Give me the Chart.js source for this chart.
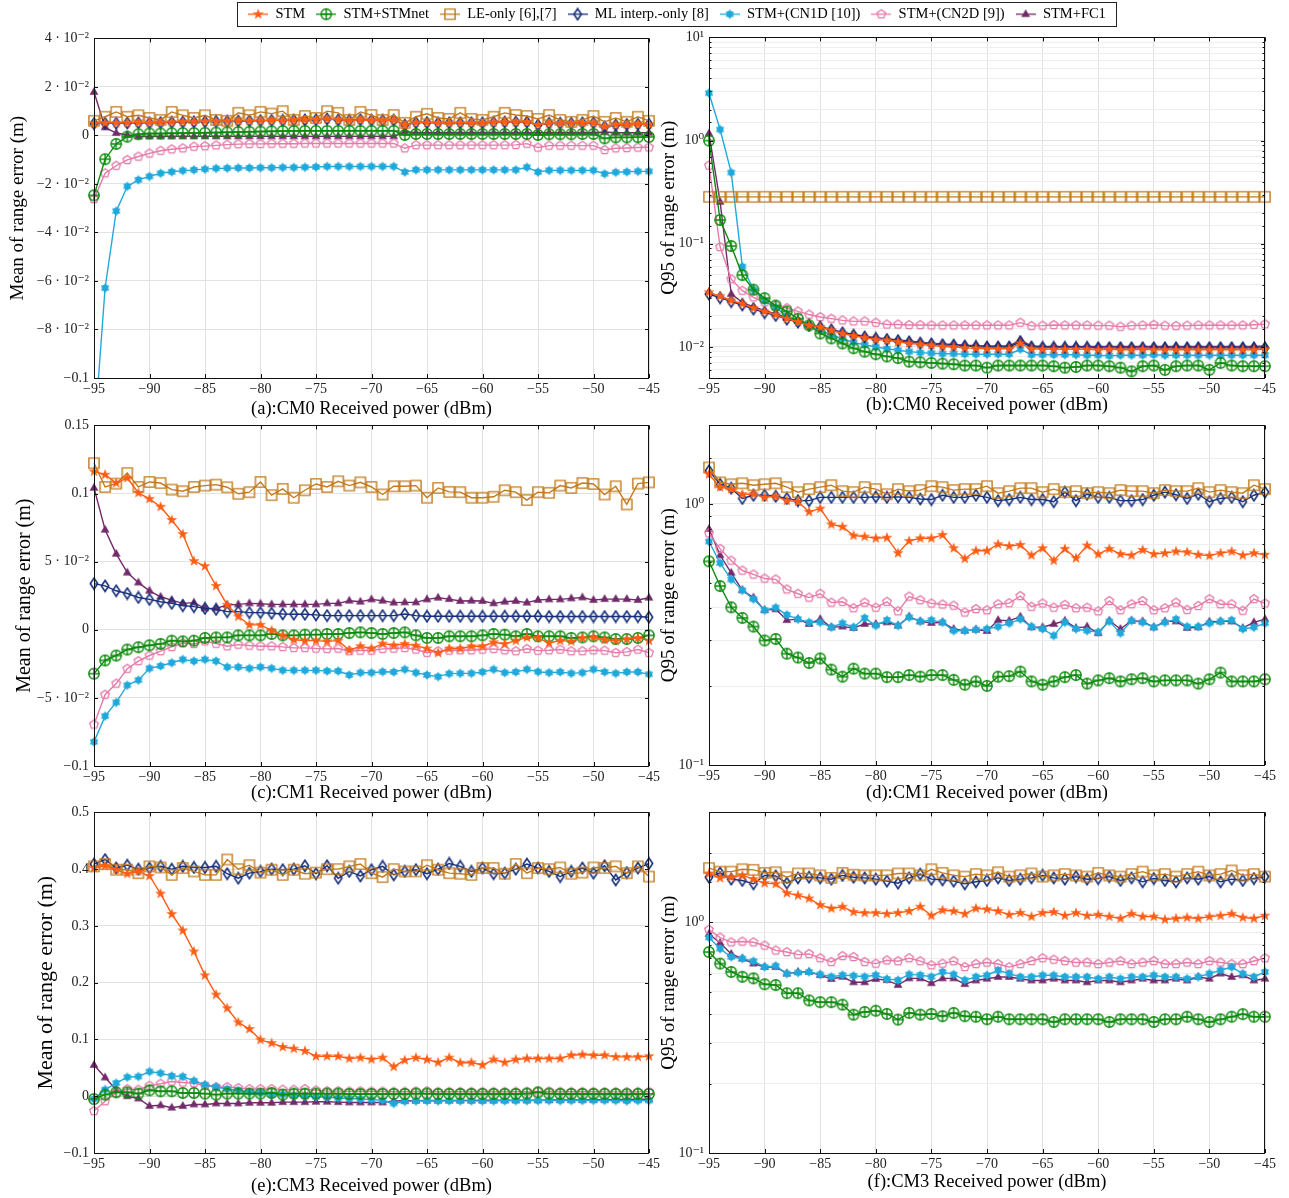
<!DOCTYPE html>
<html>
<head>
<meta charset="utf-8">
<script src="https://cdn.jsdelivr.net/npm/chart.js@4.4.1/dist/chart.umd.min.js"></script>
<style>
  body { margin: 0; background: #fff; width: 1289px; height: 1198px; position: relative; overflow: hidden; }
  canvas { position: absolute; }
  #legendBox { position: absolute; left: 237px; top: 2px; width: 880px; height: 25px; border: 1px solid #222; box-sizing: border-box; }
</style>
</head>
<body>
<div id="legendBox"></div>
<canvas id="legend" width="940" height="34" style="left:207px;top:-4px"></canvas>
<script>
'use strict';

// ***** DATA *****

let dbm = [-95, -94, -93, -92, -91, -90, -89, -88, -87, -86, -85, -84, -83, -82, -81, -80, -79, -78, -77, -76, -75,
  -74, -73, -72, -71, -70, -69, -68, -67, -66, -65, -64, -63, -62, -61, -60, -59, -58, -57, -56, -55,
  -54, -53, -52, -51, -50, -49, -48, -47, -46, -45];

let seriesNames = ['STM', 'STM+STMnet', 'LE-only [6],[7]', 'ML interp.-only [8]', 'STM+(CN1D [10])', 'STM+(CN2D [9])', 'STM+FC1'];

let xTickValues = [-95, -90, -85, -80, -75, -70, -65, -60, -55, -50, -45];
let xTickLabels = ['−95', '−90', '−85', '−80', '−75', '−70', '−65', '−60', '−55', '−50', '−45'];

let yTicksA = [-0.1, -0.08, -0.06, -0.04, -0.02, 0, 0.02, 0.04];
let yLabelsA = ['−0.1', '−8 · 10⁻²', '−6 · 10⁻²', '−4 · 10⁻²', '−2 · 10⁻²', '0', '2 · 10⁻²', '4 · 10⁻²'];
let yTicksC = [-0.1, -0.05, 0, 0.05, 0.1, 0.15];
let yLabelsC = ['−0.1', '−5 · 10⁻²', '0', '5 · 10⁻²', '0.1', '0.15'];
let yTicksE = [-0.1, 0, 0.1, 0.2, 0.3, 0.4, 0.5];
let yLabelsE = ['−0.1', '0', '0.1', '0.2', '0.3', '0.4', '0.5'];
let logTicks = [0.01, 0.1, 1, 10];
let logLabels = ['10⁻²', '10⁻¹', '10⁰', '10¹'];

// (a) CM0 mean
let stmA = [0.0050, 0.0051, 0.0051, 0.0052, 0.0053, 0.0053, 0.0054, 0.0055, 0.0056, 0.0057, 0.0058, 0.0058, 0.0059, 0.0059, 0.0060, 0.0061, 0.0062, 0.0062, 0.0063, 0.0064, 0.0065,
  0.0067, 0.0064, 0.0062, 0.0064, 0.0063, 0.0062, 0.0063, 0.0044, 0.0053, 0.0053, 0.0052, 0.0052, 0.0052, 0.0052, 0.0052, 0.0054, 0.0055, 0.0055, 0.0055, 0.0044,
  0.0050, 0.0050, 0.0050, 0.0052, 0.0052, 0.0037, 0.0044, 0.0045, 0.0046, 0.0046];
let stmnetA = [-0.0247, -0.0098, -0.0035, -0.0005, 0.0005, 0.0008, 0.0008, 0.0009, 0.0010, 0.0010, 0.0011, 0.0012, 0.0013, 0.0014, 0.0015, 0.0016, 0.0017, 0.0018, 0.0018, 0.0019, 0.0019,
  0.0019, 0.0019, 0.0019, 0.0019, 0.0019, 0.0019, 0.0019, 0.0002, 0.0006, 0.0006, 0.0006, 0.0006, 0.0006, 0.0006, 0.0006, 0.0006, 0.0006, 0.0006, 0.0006, 0.0002,
  0.0005, 0.0005, 0.0005, 0.0006, 0.0006, -0.0012, -0.0008, -0.0008, -0.0007, -0.0006];
let leA = [0.0060, 0.0077, 0.0097, 0.0077, 0.0083, 0.0072, 0.0064, 0.0097, 0.0083, 0.0072, 0.0083, 0.0064, 0.0060, 0.0093, 0.0083, 0.0097, 0.0090, 0.0100, 0.0064, 0.0080, 0.0072,
  0.0100, 0.0093, 0.0064, 0.0097, 0.0084, 0.0064, 0.0084, 0.0052, 0.0077, 0.0089, 0.0072, 0.0068, 0.0093, 0.0068, 0.0064, 0.0077, 0.0093, 0.0084, 0.0080, 0.0068,
  0.0084, 0.0064, 0.0056, 0.0064, 0.0080, 0.0056, 0.0072, 0.0056, 0.0077, 0.0060];
let mlA = [0.0049, 0.0050, 0.0050, 0.0051, 0.0052, 0.0052, 0.0053, 0.0054, 0.0055, 0.0056, 0.0057, 0.0058, 0.0058, 0.0059, 0.0060, 0.0061, 0.0062, 0.0062, 0.0063, 0.0064, 0.0065,
  0.0068, 0.0064, 0.0062, 0.0065, 0.0063, 0.0062, 0.0063, 0.0043, 0.0053, 0.0053, 0.0052, 0.0052, 0.0052, 0.0052, 0.0052, 0.0054, 0.0055, 0.0055, 0.0055, 0.0043,
  0.0050, 0.0050, 0.0050, 0.0052, 0.0052, 0.0036, 0.0043, 0.0045, 0.0046, 0.0046];
let cn1dA = [-0.125, -0.0629, -0.0312, -0.0210, -0.0183, -0.0169, -0.0156, -0.0150, -0.0145, -0.0142, -0.0139, -0.0136, -0.0135, -0.0134, -0.0134, -0.0133, -0.0133, -0.0132, -0.0132, -0.0131, -0.0130,
  -0.0128, -0.0128, -0.0128, -0.0128, -0.0128, -0.0128, -0.0128, -0.0151, -0.0142, -0.0142, -0.0142, -0.0142, -0.0142, -0.0142, -0.0142, -0.0142, -0.0142, -0.0142, -0.0131, -0.0151,
  -0.0144, -0.0144, -0.0144, -0.0144, -0.0144, -0.0158, -0.0152, -0.0150, -0.0148, -0.0148];
let cn2dA = [-0.0262, -0.0156, -0.0125, -0.0101, -0.0087, -0.0074, -0.0063, -0.0057, -0.0053, -0.0046, -0.0044, -0.0041, -0.0038, -0.0036, -0.0035, -0.0035, -0.0034, -0.0034, -0.0034, -0.0033, -0.0033,
  -0.0033, -0.0033, -0.0033, -0.0033, -0.0033, -0.0033, -0.0033, -0.0053, -0.0040, -0.0040, -0.0040, -0.0040, -0.0040, -0.0040, -0.0040, -0.0040, -0.0040, -0.0039, -0.0034, -0.0050,
  -0.0042, -0.0042, -0.0042, -0.0042, -0.0042, -0.0060, -0.0053, -0.0052, -0.0050, -0.0049];
let fc1A = [0.0179, 0.0033, 0.0010, 0.0002, -0.0004, -0.0004, -0.0004, -0.0004, -0.0004, -0.0004, -0.0004, -0.0004, -0.0004, -0.0004, -0.0004, -0.0004, -0.0004, -0.0004, -0.0004, -0.0004, -0.0004,
  -0.0004, -0.0004, -0.0004, -0.0004, -0.0004, -0.0004, -0.0004, 0.0015, 0.0011, 0.0011, 0.0011, 0.0011, 0.0011, 0.0011, 0.0011, 0.0011, 0.0011, 0.0011, 0.0011, 0.0011,
  0.0011, 0.0011, 0.0011, 0.0011, 0.0011, 0.0014, 0.0011, 0.0011, 0.0011, 0.0011];

// (b) CM0 Q95
let stmB = [0.0338, 0.0310, 0.0282, 0.0262, 0.0238, 0.0221, 0.0206, 0.0188, 0.0175, 0.0162, 0.0156, 0.0145, 0.0135, 0.0128, 0.0123, 0.0118, 0.0116, 0.0112, 0.0108, 0.0106, 0.0104,
  0.0101, 0.0100, 0.0098, 0.0097, 0.0096, 0.0096, 0.0096, 0.0108, 0.0096, 0.0095, 0.0095, 0.0095, 0.0095, 0.0095, 0.0094, 0.0095, 0.0094, 0.0094, 0.0095, 0.0094,
  0.0094, 0.0094, 0.0094, 0.0094, 0.0094, 0.0094, 0.0094, 0.0094, 0.0094, 0.0095];
let stmnetB = [1.0, 0.17, 0.095, 0.0497, 0.0359, 0.0297, 0.0252, 0.0221, 0.0188, 0.0162, 0.0135, 0.0121, 0.0108, 0.0097, 0.0090, 0.0085, 0.0081, 0.0078, 0.0072, 0.0071, 0.0070,
  0.0069, 0.0068, 0.0066, 0.0066, 0.0063, 0.0066, 0.0066, 0.0066, 0.0066, 0.0066, 0.0065, 0.0063, 0.0064, 0.0066, 0.0066, 0.0065, 0.0063, 0.0058, 0.0065, 0.0066,
  0.0060, 0.0065, 0.0066, 0.0066, 0.0060, 0.0070, 0.0066, 0.0065, 0.0065, 0.0065];
let leB = [0.285, 0.285, 0.285, 0.285, 0.285, 0.285, 0.285, 0.285, 0.285, 0.285, 0.285, 0.285, 0.285, 0.285, 0.285, 0.285, 0.285, 0.285, 0.285, 0.285, 0.285,
  0.285, 0.285, 0.285, 0.285, 0.285, 0.285, 0.285, 0.285, 0.285, 0.285, 0.285, 0.285, 0.285, 0.285, 0.285, 0.285, 0.285, 0.285, 0.285, 0.285,
  0.285, 0.285, 0.285, 0.285, 0.285, 0.285, 0.285, 0.285, 0.285, 0.285];
let mlB = [0.0325, 0.0300, 0.0275, 0.0255, 0.0233, 0.0215, 0.0202, 0.0186, 0.0174, 0.0162, 0.0156, 0.0146, 0.0137, 0.0130, 0.0125, 0.0121, 0.0118, 0.0115, 0.0112, 0.0109, 0.0107,
  0.0105, 0.0104, 0.0102, 0.0101, 0.0100, 0.0100, 0.0100, 0.0112, 0.0100, 0.0099, 0.0099, 0.0099, 0.0099, 0.0099, 0.0098, 0.0098, 0.0098, 0.0098, 0.0098, 0.0098,
  0.0098, 0.0098, 0.0098, 0.0098, 0.0098, 0.0098, 0.0098, 0.0098, 0.0098, 0.0098];
let cn1dB = [2.88, 1.28, 0.49, 0.060, 0.036, 0.028, 0.024, 0.020, 0.018, 0.016, 0.0145, 0.013, 0.012, 0.011, 0.0105, 0.0100, 0.0096, 0.0093, 0.0090, 0.0088, 0.0087,
  0.0086, 0.0086, 0.0085, 0.0085, 0.0085, 0.0085, 0.0085, 0.0095, 0.0084, 0.0084, 0.0084, 0.0084, 0.0084, 0.0083, 0.0083, 0.0082, 0.0083, 0.0083, 0.0083, 0.0084,
  0.0083, 0.0083, 0.0083, 0.0083, 0.0083, 0.0083, 0.0083, 0.0083, 0.0083, 0.0083];
let cn2dB = [0.573, 0.093, 0.0454, 0.0351, 0.0303, 0.0271, 0.0252, 0.0238, 0.0221, 0.0206, 0.0195, 0.0188, 0.0181, 0.0177, 0.0177, 0.0172, 0.0165, 0.0165, 0.0163, 0.0163, 0.0162,
  0.0162, 0.0162, 0.0162, 0.0162, 0.0162, 0.0162, 0.0162, 0.0172, 0.0160, 0.0161, 0.0163, 0.0162, 0.0162, 0.0162, 0.0161, 0.0161, 0.0157, 0.0161, 0.0162, 0.0164,
  0.0161, 0.0160, 0.0161, 0.0162, 0.0162, 0.0162, 0.0162, 0.0162, 0.0164, 0.0166];
let fc1B = [1.17, 0.255, 0.0326, 0.0270, 0.0245, 0.0225, 0.0210, 0.0192, 0.0178, 0.0165, 0.0158, 0.0148, 0.0139, 0.0132, 0.0127, 0.0123, 0.0120, 0.0117, 0.0114, 0.0111, 0.0109,
  0.0107, 0.0106, 0.0104, 0.0103, 0.0102, 0.0102, 0.0102, 0.0117, 0.0102, 0.0101, 0.0101, 0.0101, 0.0101, 0.0101, 0.0101, 0.0101, 0.0101, 0.0101, 0.0101, 0.0101,
  0.0101, 0.0101, 0.0101, 0.0101, 0.0101, 0.0101, 0.0101, 0.0101, 0.0101, 0.0102];

// (c) CM1 mean
let stmC = [0.1162, 0.1138, 0.1077, 0.1114, 0.1005, 0.0961, 0.0903, 0.0806, 0.0702, 0.0504, 0.0467, 0.0322, 0.0182, 0.0097, 0.0036, 0.0036, -0.0005, -0.0041, -0.0073, -0.0080, -0.0080,
  -0.0085, -0.0080, -0.0150, -0.0121, -0.0138, -0.0102, -0.0114, -0.0104, -0.0116, -0.0138, -0.0170, -0.0138, -0.0138, -0.0121, -0.0121, -0.0092, -0.0104, -0.0080, -0.0056, -0.0060,
  -0.0097, -0.0080, -0.0085, -0.0060, -0.0056, -0.0073, -0.0080, -0.0068, -0.0060, -0.0080];
let stmnetC = [-0.0322, -0.0225, -0.0189, -0.0145, -0.0128, -0.0114, -0.0104, -0.0080, -0.0085, -0.0080, -0.0060, -0.0056, -0.0056, -0.0041, -0.0041, -0.0041, -0.0031, -0.0041, -0.0041, -0.0036, -0.0036,
  -0.0031, -0.0031, -0.0024, -0.0019, -0.0024, -0.0031, -0.0024, -0.0019, -0.0041, -0.0060, -0.0060, -0.0048, -0.0048, -0.0048, -0.0041, -0.0031, -0.0036, -0.0048, -0.0031, -0.0048,
  -0.0048, -0.0048, -0.0060, -0.0056, -0.0048, -0.0056, -0.0068, -0.0068, -0.0060, -0.0041];
let leC = [0.1223, 0.1048, 0.1073, 0.1150, 0.1048, 0.1085, 0.1077, 0.1029, 0.1017, 0.1048, 0.1058, 0.1065, 0.1046, 0.0998, 0.1010, 0.1085, 0.0988, 0.1034, 0.0969, 0.1024, 0.1070,
  0.1048, 0.1090, 0.1058, 0.1082, 0.1048, 0.0993, 0.1053, 0.1053, 0.1058, 0.0969, 0.1041, 0.1012, 0.1010, 0.0969, 0.0969, 0.0976, 0.1024, 0.1010, 0.0952, 0.1010,
  0.1005, 0.1058, 0.1041, 0.1077, 0.1070, 0.0993, 0.1053, 0.0920, 0.1073, 0.1082];
let mlC = [0.0339, 0.0322, 0.0286, 0.0266, 0.0237, 0.0223, 0.0206, 0.0194, 0.0177, 0.0170, 0.0157, 0.0150, 0.0133, 0.0133, 0.0126, 0.0126, 0.0121, 0.0116, 0.0114, 0.0114, 0.0109,
  0.0104, 0.0104, 0.0104, 0.0104, 0.0104, 0.0104, 0.0104, 0.0116, 0.0104, 0.0099, 0.0099, 0.0099, 0.0099, 0.0099, 0.0099, 0.0099, 0.0099, 0.0099, 0.0099, 0.0099,
  0.0097, 0.0097, 0.0097, 0.0097, 0.0097, 0.0097, 0.0097, 0.0097, 0.0097, 0.0092];
let cn1dC = [-0.0823, -0.0634, -0.0533, -0.0407, -0.0370, -0.0283, -0.0266, -0.0242, -0.0218, -0.0230, -0.0218, -0.0230, -0.0274, -0.0274, -0.0283, -0.0274, -0.0283, -0.0298, -0.0298, -0.0298, -0.0298,
  -0.0303, -0.0303, -0.0332, -0.0315, -0.0315, -0.0308, -0.0310, -0.0291, -0.0315, -0.0332, -0.0344, -0.0322, -0.0320, -0.0320, -0.0310, -0.0291, -0.0315, -0.0310, -0.0291, -0.0308,
  -0.0315, -0.0310, -0.0320, -0.0315, -0.0291, -0.0310, -0.0320, -0.0310, -0.0310, -0.0327];
let cn2dC = [-0.0695, -0.0477, -0.0395, -0.0286, -0.0230, -0.0189, -0.0157, -0.0126, -0.0097, -0.0104, -0.0085, -0.0102, -0.0121, -0.0109, -0.0116, -0.0121, -0.0121, -0.0126, -0.0133, -0.0133, -0.0138,
  -0.0140, -0.0138, -0.0157, -0.0153, -0.0153, -0.0140, -0.0138, -0.0133, -0.0145, -0.0169, -0.0157, -0.0153, -0.0150, -0.0150, -0.0145, -0.0140, -0.0150, -0.0157, -0.0140, -0.0153,
  -0.0150, -0.0145, -0.0157, -0.0157, -0.0150, -0.0153, -0.0169, -0.0162, -0.0145, -0.0169];
let fc1C = [0.1041, 0.0734, 0.0557, 0.0419, 0.0346, 0.0286, 0.0242, 0.0218, 0.0194, 0.0199, 0.0157, 0.0157, 0.0182, 0.0186, 0.0194, 0.0191, 0.0186, 0.0186, 0.0186, 0.0186, 0.0186,
  0.0194, 0.0194, 0.0213, 0.0206, 0.0223, 0.0213, 0.0199, 0.0201, 0.0201, 0.0223, 0.0235, 0.0225, 0.0211, 0.0213, 0.0211, 0.0194, 0.0206, 0.0211, 0.0199, 0.0218,
  0.0223, 0.0223, 0.0230, 0.0237, 0.0218, 0.0225, 0.0225, 0.0225, 0.0218, 0.0235];

// (d) CM1 Q95
let stmD = [1.30, 1.16, 1.14, 1.09, 1.09, 1.06, 1.07, 1.03, 1.02, 0.933, 0.96, 0.835, 0.818, 0.757, 0.75, 0.739, 0.743, 0.648, 0.722, 0.739, 0.739, 0.761, 0.677,
  0.617, 0.662, 0.662, 0.701, 0.690, 0.697, 0.636, 0.677, 0.607, 0.673, 0.620, 0.693, 0.642, 0.673, 0.643, 0.636, 0.667, 0.643, 0.648, 0.658, 0.654, 0.639, 0.634, 0.648, 0.658, 0.636, 0.648, 0.639];
let stmnetD = [0.603, 0.485, 0.402, 0.366, 0.339, 0.300, 0.304, 0.267, 0.258, 0.246, 0.256, 0.232, 0.218, 0.234, 0.224, 0.224, 0.217, 0.217, 0.221, 0.218, 0.221, 0.221, 0.212,
  0.203, 0.209, 0.201, 0.218, 0.219, 0.228, 0.209, 0.203, 0.209, 0.217, 0.221, 0.205, 0.211, 0.215, 0.209, 0.213, 0.215, 0.209, 0.211, 0.211, 0.211, 0.205, 0.213, 0.226, 0.209, 0.209, 0.209, 0.213];
let leD = [1.38, 1.21, 1.19, 1.20, 1.18, 1.19, 1.20, 1.16, 1.11, 1.14, 1.16, 1.18, 1.12, 1.11, 1.16, 1.14, 1.09, 1.14, 1.12, 1.13, 1.17, 1.16, 1.13,
  1.14, 1.14, 1.17, 1.10, 1.12, 1.15, 1.15, 1.11, 1.14, 1.11, 1.12, 1.10, 1.11, 1.10, 1.13, 1.12, 1.12, 1.10, 1.13, 1.12, 1.12, 1.15, 1.11, 1.13, 1.11, 1.10, 1.18, 1.14];
let mlD = [1.34, 1.19, 1.15, 1.05, 1.08, 1.08, 1.07, 1.05, 1.03, 1.03, 1.06, 1.06, 1.06, 1.06, 1.06, 1.065, 1.06, 1.065, 1.06, 1.045, 1.04, 1.08, 1.06,
  1.06, 1.08, 1.06, 1.03, 1.04, 1.06, 1.04, 1.04, 1.02, 1.11, 1.03, 1.09, 1.06, 1.06, 1.03, 1.03, 1.04, 1.08, 1.11, 1.085, 1.05, 1.09, 1.02, 1.05, 1.06, 1.02, 1.08, 1.11];
let cn1dD = [0.718, 0.594, 0.514, 0.467, 0.432, 0.392, 0.401, 0.376, 0.362, 0.352, 0.352, 0.337, 0.349, 0.337, 0.366, 0.342, 0.359, 0.342, 0.368, 0.355, 0.359, 0.352, 0.327,
  0.327, 0.330, 0.332, 0.339, 0.349, 0.362, 0.339, 0.332, 0.313, 0.352, 0.332, 0.327, 0.323, 0.355, 0.320, 0.357, 0.352, 0.337, 0.352, 0.362, 0.339, 0.339, 0.349, 0.355, 0.359, 0.332, 0.337, 0.349];
let cn2dD = [0.772, 0.673, 0.607, 0.556, 0.537, 0.518, 0.514, 0.471, 0.453, 0.438, 0.453, 0.419, 0.422, 0.399, 0.419, 0.401, 0.422, 0.388, 0.442, 0.428, 0.416, 0.412, 0.408,
  0.384, 0.396, 0.392, 0.413, 0.417, 0.444, 0.404, 0.416, 0.401, 0.411, 0.399, 0.401, 0.388, 0.425, 0.392, 0.413, 0.425, 0.392, 0.399, 0.419, 0.393, 0.407, 0.432, 0.413, 0.413, 0.390, 0.432, 0.416];
let fc1D = [0.802, 0.636, 0.545, 0.467, 0.438, 0.392, 0.395, 0.359, 0.362, 0.347, 0.362, 0.337, 0.339, 0.335, 0.347, 0.347, 0.352, 0.342, 0.370, 0.355, 0.350, 0.352, 0.332,
  0.327, 0.330, 0.326, 0.359, 0.357, 0.370, 0.337, 0.337, 0.347, 0.357, 0.335, 0.339, 0.320, 0.357, 0.332, 0.357, 0.355, 0.337, 0.355, 0.355, 0.335, 0.337, 0.354, 0.355, 0.355, 0.335, 0.352, 0.362];

// (e) CM3 mean
let stmE = [0.402, 0.406, 0.399, 0.392, 0.396, 0.388, 0.357, 0.321, 0.292, 0.255, 0.213, 0.179, 0.155, 0.130, 0.1185, 0.0994, 0.0936, 0.0867, 0.0838, 0.0798, 0.0705,
  0.0705, 0.0705, 0.0665, 0.0680, 0.0650, 0.0680, 0.0520, 0.0636, 0.0680, 0.0647, 0.0595, 0.0680, 0.0590, 0.0595, 0.0550, 0.0647, 0.0595, 0.0647, 0.0665, 0.0665,
  0.0665, 0.0665, 0.0723, 0.0734, 0.0723, 0.0723, 0.0694, 0.0694, 0.0694, 0.0705];
let stmnetE = [-0.005, 0.0029, 0.0069, 0.0069, 0.0046, 0.0104, 0.0087, 0.0087, 0.0058, 0.0058, 0.0046, 0.0029, 0.0046, 0.0046, 0.0046, 0.0046, 0.0058, 0.0029, 0.0046, 0.0046, 0.0046,
  0.0046, 0.0046, 0.0040, 0.0040, 0.0040, 0.0040, 0.0040, 0.0040, 0.0046, 0.0046, 0.0040, 0.0040, 0.0040, 0.0040, 0.0040, 0.0040, 0.0040, 0.0040, 0.0046, 0.0069,
  0.0046, 0.0040, 0.0040, 0.0040, 0.0040, 0.0040, 0.0040, 0.0035, 0.0040, 0.0040];
let leE = [0.405, 0.409, 0.399, 0.399, 0.393, 0.405, 0.403, 0.390, 0.402, 0.396, 0.390, 0.390, 0.417, 0.400, 0.407, 0.394, 0.399, 0.390, 0.399, 0.392, 0.394,
  0.400, 0.400, 0.405, 0.409, 0.393, 0.386, 0.400, 0.396, 0.396, 0.407, 0.399, 0.393, 0.392, 0.390, 0.402, 0.402, 0.392, 0.409, 0.393, 0.402,
  0.400, 0.403, 0.392, 0.394, 0.403, 0.402, 0.405, 0.393, 0.405, 0.387];
let mlE = [0.409, 0.417, 0.402, 0.407, 0.400, 0.402, 0.405, 0.400, 0.405, 0.403, 0.403, 0.405, 0.392, 0.384, 0.393, 0.396, 0.400, 0.399, 0.400, 0.406, 0.392,
  0.406, 0.384, 0.396, 0.388, 0.399, 0.405, 0.390, 0.396, 0.399, 0.392, 0.400, 0.410, 0.405, 0.396, 0.402, 0.392, 0.393, 0.400, 0.409, 0.402,
  0.396, 0.387, 0.396, 0.402, 0.393, 0.406, 0.381, 0.394, 0.402, 0.410];
let cn1dE = [-0.005, 0.0116, 0.0231, 0.0335, 0.0347, 0.0434, 0.0405, 0.0358, 0.0347, 0.0272, 0.0202, 0.0162, 0.0127, 0.0104, 0.0069, 0.0058, 0.0029, 0.0029, 0.0012, 0.0, -0.001,
  -0.002, -0.003, -0.004, -0.005, -0.006, -0.007, -0.0127, -0.0090, -0.0085, -0.0080, -0.0085, -0.0080, -0.0082, -0.0082, -0.0085, -0.0082, -0.0080, -0.0078, -0.0080, -0.0078,
  -0.0076, -0.0078, -0.0076, -0.0076, -0.0074, -0.0074, -0.0076, -0.0085, -0.0076, -0.0076];
let cn2dE = [-0.026, -0.0087, 0.0058, 0.0127, 0.0116, 0.0185, 0.022, 0.026, 0.0243, 0.0231, 0.0185, 0.0162, 0.0162, 0.0145, 0.0127, 0.0127, 0.0127, 0.0116, 0.0116, 0.0127, 0.0104,
  0.0090, 0.0090, 0.0085, 0.0090, 0.0085, 0.0085, 0.0080, 0.0080, 0.0085, 0.0090, 0.0080, 0.0080, 0.0078, 0.0078, 0.0078, 0.0078, 0.0078, 0.0080, 0.0080, 0.0085,
  0.0085, 0.0080, 0.0078, 0.0078, 0.0078, 0.0076, 0.0076, 0.0076, 0.0078, 0.0078];
let fc1E = [0.055, 0.033, 0.0116, 0.0, -0.004, -0.0173, -0.016, -0.0202, -0.0173, -0.0145, -0.0145, -0.0127, -0.0127, -0.0127, -0.0116, -0.0116, -0.0116, -0.0104, -0.0104, -0.0104, -0.0098,
  -0.0098, -0.0104, -0.0110, -0.0110, -0.0110, -0.0110, -0.0085, -0.0080, -0.0078, -0.0076, -0.0075, -0.0075, -0.0074, -0.0073, -0.0072, -0.0071, -0.0070, -0.0070, -0.0069, -0.0068,
  -0.0067, -0.0066, -0.0065, -0.0064, -0.0062, -0.0060, -0.0058, -0.0056, -0.0054, -0.0052];

// (f) CM3 Q95
let stmF = [1.63, 1.56, 1.57, 1.60, 1.54, 1.48, 1.47, 1.34, 1.31, 1.27, 1.19, 1.15, 1.17, 1.11, 1.10, 1.10, 1.09, 1.10, 1.12, 1.17, 1.07, 1.13, 1.12, 1.09,
  1.15, 1.14, 1.12, 1.08, 1.10, 1.06, 1.10, 1.11, 1.07, 1.10, 1.07, 1.08, 1.06, 1.04, 1.09, 1.06, 1.06, 1.03, 1.04, 1.05, 1.04, 1.06, 1.07, 1.09, 1.05, 1.04, 1.07];
let stmnetF = [0.744, 0.663, 0.61, 0.581, 0.572, 0.539, 0.535, 0.493, 0.493, 0.459, 0.451, 0.451, 0.44, 0.398, 0.409, 0.414, 0.401, 0.379, 0.405, 0.398, 0.401, 0.392, 0.405, 0.392,
  0.39, 0.38, 0.39, 0.38, 0.38, 0.38, 0.38, 0.37, 0.38, 0.38, 0.38, 0.38, 0.37, 0.38, 0.38, 0.38, 0.37, 0.38, 0.38, 0.39, 0.38, 0.37, 0.38, 0.39, 0.40, 0.39, 0.39];
let leF = [1.72, 1.66, 1.66, 1.70, 1.69, 1.64, 1.65, 1.57, 1.63, 1.63, 1.60, 1.56, 1.64, 1.61, 1.60, 1.60, 1.60, 1.63, 1.63, 1.60, 1.70, 1.64, 1.60, 1.58,
  1.62, 1.60, 1.65, 1.58, 1.60, 1.63, 1.58, 1.60, 1.62, 1.60, 1.58, 1.64, 1.60, 1.58, 1.62, 1.66, 1.60, 1.62, 1.58, 1.62, 1.66, 1.60, 1.62, 1.68, 1.60, 1.62, 1.58];
let mlF = [1.57, 1.64, 1.54, 1.52, 1.47, 1.60, 1.59, 1.48, 1.56, 1.57, 1.56, 1.54, 1.60, 1.57, 1.56, 1.54, 1.51, 1.48, 1.56, 1.62, 1.54, 1.53, 1.51, 1.47,
  1.50, 1.52, 1.56, 1.52, 1.54, 1.56, 1.60, 1.56, 1.54, 1.58, 1.54, 1.55, 1.58, 1.52, 1.56, 1.50, 1.55, 1.52, 1.50, 1.56, 1.54, 1.58, 1.50, 1.54, 1.52, 1.55, 1.58];
let cn1dF = [0.86, 0.769, 0.708, 0.697, 0.679, 0.641, 0.648, 0.60, 0.606, 0.61, 0.595, 0.581, 0.591, 0.587, 0.581, 0.591, 0.568, 0.562, 0.595, 0.591, 0.581, 0.61, 0.595, 0.562,
  0.58, 0.59, 0.62, 0.60, 0.58, 0.58, 0.59, 0.59, 0.58, 0.58, 0.58, 0.57, 0.58, 0.57, 0.58, 0.58, 0.59, 0.58, 0.58, 0.57, 0.58, 0.60, 0.62, 0.64, 0.60, 0.58, 0.61];
let cn2dF = [0.93, 0.86, 0.82, 0.826, 0.82, 0.794, 0.756, 0.744, 0.725, 0.73, 0.70, 0.674, 0.715, 0.708, 0.674, 0.663, 0.685, 0.679, 0.70, 0.679, 0.652, 0.663, 0.679, 0.641,
  0.66, 0.67, 0.66, 0.64, 0.66, 0.68, 0.70, 0.69, 0.68, 0.67, 0.67, 0.66, 0.67, 0.68, 0.66, 0.67, 0.68, 0.66, 0.66, 0.67, 0.66, 0.68, 0.67, 0.66, 0.66, 0.68, 0.70];
let fc1F = [0.891, 0.815, 0.73, 0.697, 0.663, 0.641, 0.641, 0.60, 0.61, 0.61, 0.591, 0.568, 0.581, 0.55, 0.55, 0.568, 0.562, 0.535, 0.572, 0.572, 0.545, 0.572, 0.572, 0.54,
  0.56, 0.57, 0.58, 0.58, 0.57, 0.56, 0.56, 0.57, 0.56, 0.56, 0.55, 0.56, 0.56, 0.55, 0.56, 0.57, 0.56, 0.56, 0.57, 0.56, 0.58, 0.57, 0.60, 0.58, 0.59, 0.56, 0.57];


// ***** STYLES *****

let seriesColors = ['#ff5c14', '#0b8a0b', '#c27a1c', '#17307a', '#22a9db', '#e57ba9', '#722a6a'];
let seriesMarks = ['star', 'oplus', 'square', 'diamond', 'asterisk', 'pentagon', 'triangle'];
let fontFamily = "'Liberation Serif', 'DejaVu Serif', serif";

Chart.defaults.font.family = fontFamily;
Chart.defaults.color = '#000';

function drawMark(g, kind, color, cx, cy) {
  g.save();
  g.translate(cx, cy);
  g.strokeStyle = color;
  g.fillStyle = color;
  g.lineWidth = 1.4;
  g.beginPath();
  if (kind === 'star') {
    for (let i = 0; i < 10; i++) {
      let r = i % 2 ? 2.3 : 5.8;
      let a = -Math.PI / 2 + i * Math.PI / 5;
      g.lineTo(r * Math.cos(a), r * Math.sin(a));
    }
    g.closePath();
    g.fill();
  } else if (kind === 'oplus') {
    g.arc(0, 0, 5.2, 0, 2 * Math.PI);
    g.moveTo(-5.2, 0); g.lineTo(5.2, 0);
    g.moveTo(0, -5.2); g.lineTo(0, 5.2);
    g.stroke();
  } else if (kind === 'square') {
    g.rect(-5.1, -5.1, 10.2, 10.2);
    g.stroke();
  } else if (kind === 'diamond') {
    g.moveTo(0, -5.5); g.lineTo(3.7, 0); g.lineTo(0, 5.5); g.lineTo(-3.7, 0);
    g.closePath();
    g.lineWidth = 1.6;
    g.stroke();
  } else if (kind === 'asterisk') {
    g.arc(0, 0, 3.4, 0, 2 * Math.PI);
    g.fill();
    g.beginPath();
    for (let i = 0; i < 3; i++) {
      let a = Math.PI / 2 + i * Math.PI / 3;
      g.moveTo(-4.5 * Math.cos(a), -4.5 * Math.sin(a));
      g.lineTo(4.5 * Math.cos(a), 4.5 * Math.sin(a));
    }
    g.lineWidth = 1.3;
    g.stroke();
  } else if (kind === 'pentagon') {
    for (let i = 0; i < 5; i++) {
      let a = -Math.PI / 2 + i * 2 * Math.PI / 5;
      g.lineTo(4.5 * Math.cos(a), 4.5 * Math.sin(a));
    }
    g.closePath();
    g.lineWidth = 1.3;
    g.stroke();
  } else if (kind === 'triangle') {
    g.moveTo(0, -5); g.lineTo(4.4, 2.7); g.lineTo(-4.4, 2.7);
    g.closePath();
    g.fill();
  }
  g.restore();
}

let markImages = seriesMarks.map((kind, i) => {
  let c = document.createElement('canvas');
  c.width = 14; c.height = 14;
  drawMark(c.getContext('2d'), kind, seriesColors[i], 7, 7);
  return c;
});

let legendImages = seriesMarks.map((kind, i) => {
  let c = document.createElement('canvas');
  c.width = 20; c.height = 14;
  let g = c.getContext('2d');
  g.strokeStyle = seriesColors[i];
  g.lineWidth = 1.3;
  g.beginPath(); g.moveTo(0, 7); g.lineTo(20, 7); g.stroke();
  drawMark(g, kind, seriesColors[i], 10, 7);
  return c;
});

function isPow10(v) {
  let l = Math.log10(v);
  return Math.abs(l - Math.round(l)) < 1e-6;
}

// frame + inner tick marks on all four sides
const framePlugin = {
  id: 'frame',
  afterDraw(chart) {
    let {ctx, chartArea: a, scales} = chart;
    let logY = scales.y.type === 'logarithmic';
    ctx.save();
    ctx.strokeStyle = '#111';
    ctx.lineWidth = 1;
    ctx.beginPath();
    scales.x.ticks.forEach(t => {
      let px = Math.round(scales.x.getPixelForValue(t.value)) + 0.5;
      ctx.moveTo(px, a.bottom); ctx.lineTo(px, a.bottom - 4);
      ctx.moveTo(px, a.top); ctx.lineTo(px, a.top + 4);
    });
    scales.y.ticks.forEach(t => {
      let py = Math.round(scales.y.getPixelForValue(t.value)) + 0.5;
      let len = (!logY || isPow10(t.value)) ? 4 : 2.5;
      ctx.moveTo(a.left, py); ctx.lineTo(a.left + len, py);
      ctx.moveTo(a.right, py); ctx.lineTo(a.right - len, py);
    });
    ctx.stroke();
    ctx.strokeRect(Math.round(a.left) + 0.5, Math.round(a.top) + 0.5, Math.round(a.right - a.left) - 1, Math.round(a.bottom - a.top));
    ctx.restore();
  }
};

// ***** PANELS *****

let panels = [
  {id: 'pa', box: [7, 25, 656, 395], yw: 87, xh: 42, yTitle: 'Mean of range error (m)', yTitleSize: 19,
    xTitle: '(a):CM0 Received power (dBm)', type: 'linear', min: -0.1, max: 0.04, ticks: yTicksA, labels: yLabelsA,
    data: [stmA, stmnetA, leA, mlA, cn1dA, cn2dA, fc1A]},
  {id: 'pb', box: [658, 24, 621, 392], yw: 51, xh: 38, yTitle: 'Q95 of range error (m)', yTitleSize: 19,
    xTitle: '(b):CM0 Received power (dBm)', type: 'logarithmic', min: 0.005, max: 10, ticks: logTicks, labels: logLabels,
    data: [stmB, stmnetB, leB, mlB, cn1dB, cn2dB, fc1B]},
  {id: 'pc', box: [13, 412, 650, 392], yw: 81, xh: 38, yTitle: 'Mean of range error (m)', yTitleSize: 20,
    xTitle: '(c):CM1 Received power (dBm)', type: 'linear', min: -0.1, max: 0.15, ticks: yTicksC, labels: yLabelsC,
    data: [stmC, stmnetC, leC, mlC, cn1dC, cn2dC, fc1C]},
  {id: 'pd', box: [658, 412, 621, 392], yw: 51, xh: 39, yTitle: 'Q95 of range error (m)', yTitleSize: 19,
    xTitle: '(d):CM1 Received power (dBm)', type: 'logarithmic', min: 0.1, max: 2, ticks: logTicks, labels: logLabels,
    data: [stmD, stmnetD, leD, mlD, cn1dD, cn2dD, fc1D]},
  {id: 'pe', box: [33, 799, 630, 398], yw: 61, xh: 44, yTitle: 'Mean of range error (m)', yTitleSize: 22,
    xTitle: '(e):CM3 Received power (dBm)', type: 'linear', min: -0.1, max: 0.5, ticks: yTicksE, labels: yLabelsE,
    data: [stmE, stmnetE, leE, mlE, cn1dE, cn2dE, fc1E]},
  {id: 'pf', box: [658, 799, 621, 394], yw: 51, xh: 40, yTitle: 'Q95 of range error (m)', yTitleSize: 19,
    xTitle: '(f):CM3 Received power (dBm)', type: 'logarithmic', min: 0.1, max: 3, ticks: logTicks, labels: logLabels,
    data: [stmF, stmnetF, leF, mlF, cn1dF, cn2dF, fc1F]}
];

function lookupLabel(values, labels, v) {
  let i = values.findIndex(t => Math.abs(t - v) < 1e-9 * Math.max(1, Math.abs(t)));
  return i >= 0 ? labels[i] : '';
}

function buildPanel(p) {
  let canvas = document.createElement('canvas');
  canvas.id = p.id;
  canvas.width = p.box[2];
  canvas.height = p.box[3];
  canvas.style.left = p.box[0] + 'px';
  canvas.style.top = p.box[1] + 'px';
  document.body.appendChild(canvas);

  let isLog = p.type === 'logarithmic';
  let yScale = {
    type: p.type,
    min: p.min,
    max: p.max,
    afterFit: s => { s.width = p.yw; },
    ticks: {
      autoSkip: false,
      padding: 5,
      color: '#222',
      font: {size: 14},
      callback: v => lookupLabel(p.ticks, p.labels, v)
    },
    grid: {
      drawTicks: false,
      color: c => (!isLog || (c.tick && isPow10(c.tick.value))) ? '#e2e2e2' : '#eeeeee'
    },
    border: {display: false},
    title: {display: true, text: p.yTitle, font: {size: p.yTitleSize}, padding: 0, color: '#000'}
  };
  if (!isLog) {
    yScale.afterBuildTicks = s => { s.ticks = p.ticks.map(v => ({value: v})); };
  }

  new Chart(canvas, {
    type: 'line',
    data: {
      datasets: p.data.map((vals, i) => ({
        label: seriesNames[i],
        data: vals.map((v, k) => ({x: dbm[k], y: v})),
        borderColor: seriesColors[i],
        backgroundColor: seriesColors[i],
        borderWidth: 1.4,
        pointStyle: markImages[i],
        pointRadius: 4,
        pointHoverRadius: 4,
        tension: 0,
        clip: {left: 8, right: 8, top: 8, bottom: 0}
      }))
    },
    options: {
      responsive: false,
      animation: false,
      events: [],
      layout: {padding: {top: 10, right: 14, left: 0, bottom: 0}},
      plugins: {legend: {display: false}, tooltip: {enabled: false}},
      scales: {
        x: {
          type: 'linear',
          min: -95,
          max: -45,
          afterBuildTicks: s => { s.ticks = xTickValues.map(v => ({value: v})); },
          afterFit: s => { s.height = p.xh; },
          ticks: {
            padding: 3,
            color: '#222',
            font: {size: 14},
            maxRotation: 0,
            callback: v => lookupLabel(xTickValues, xTickLabels, v)
          },
          grid: {drawTicks: false, color: '#e2e2e2'},
          border: {display: false},
          title: {display: true, text: p.xTitle, font: {size: 18.5}, padding: 0, color: '#000'}
        },
        y: yScale
      }
    },
    plugins: [framePlugin]
  });
}

panels.forEach(buildPanel);

// ***** LEGEND *****

new Chart(document.getElementById('legend'), {
  type: 'line',
  data: {datasets: seriesNames.map((n, i) => ({label: n, data: [], borderColor: seriesColors[i]}))},
  options: {
    responsive: false,
    animation: false,
    events: [],
    layout: {padding: 0},
    scales: {x: {display: false}, y: {display: false}},
    plugins: {
      tooltip: {enabled: false},
      legend: {
        display: true,
        position: 'top',
        maxHeight: 34,
        labels: {
          usePointStyle: true,
          pointStyleWidth: 20,
          padding: 11,
          color: '#000',
          font: {size: 14.5},
          generateLabels: () => seriesNames.map((n, i) => ({
            text: n, pointStyle: legendImages[i], fillStyle: seriesColors[i],
            strokeStyle: seriesColors[i], fontColor: '#000', lineWidth: 0, hidden: false, datasetIndex: i
          }))
        }
      }
    }
  }
});
</script>
</body>
</html>
